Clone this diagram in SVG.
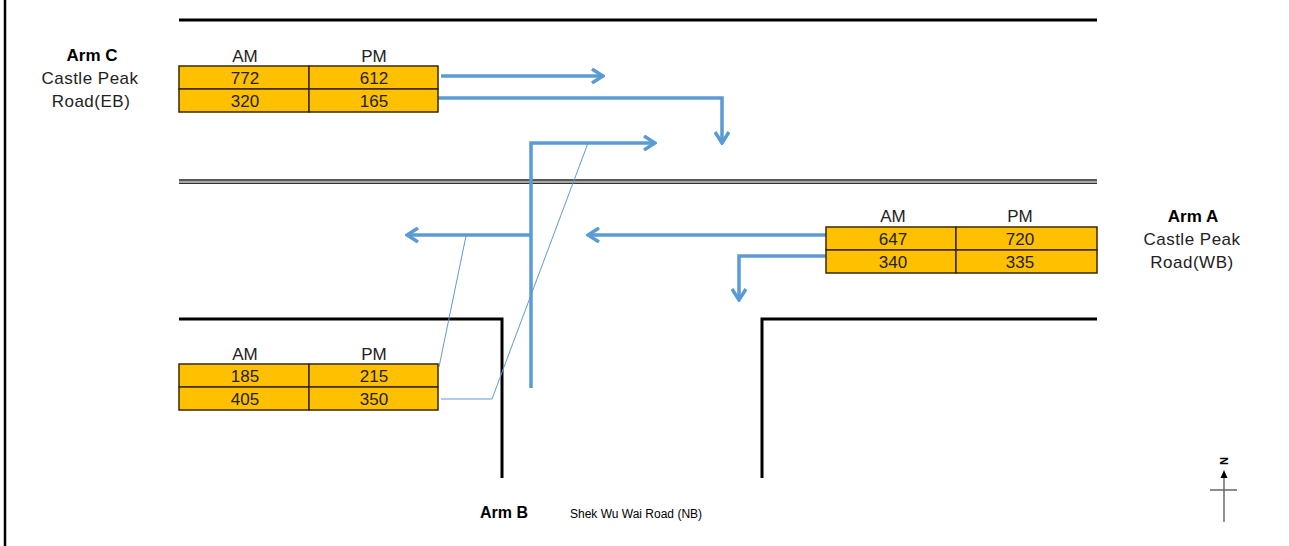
<svg xmlns="http://www.w3.org/2000/svg" width="1289" height="546" viewBox="0 0 1289 546">
<defs>
<style>
.road{stroke:#000;stroke-width:3;fill:none}
.flow{stroke:#5B9BD5;stroke-width:3.5;fill:none}
.thin{stroke:#5B9BD5;stroke-width:1;fill:none}
.cell{fill:#FFC000;stroke:#3a2a00;stroke-width:1.5}
.t{font-family:"Liberation Sans",Arial,sans-serif;font-size:17px;fill:#222;text-anchor:middle}
.lab{font-family:"Liberation Sans",Arial,sans-serif;font-size:17px;fill:#222;text-anchor:middle;letter-spacing:0.5px}
.b{font-weight:bold;fill:#000;letter-spacing:0}
</style>
<marker id="ah" viewBox="0 0 16 16" refX="14" refY="8" markerWidth="16" markerHeight="16" markerUnits="userSpaceOnUse" orient="auto">
<path d="M3,1 L14,8 L3,15" fill="none" stroke="#5B9BD5" stroke-width="3.5"/>
</marker>
</defs>
<rect width="1289" height="546" fill="#fff"/>
<line x1="5" y1="0" x2="5" y2="546" stroke="#000" stroke-width="2.5"/>
<g id="roads">
<line class="road" x1="179" y1="20" x2="1097" y2="20"/>
<line x1="179" y1="180" x2="1097" y2="180" stroke="#222" stroke-width="1.5"/>
<line x1="179" y1="182" x2="1097" y2="182" stroke="#888" stroke-width="1.5"/>
<line x1="179" y1="183.5" x2="1097" y2="183.5" stroke="#333" stroke-width="1"/>
<polyline class="road" points="179,319 502,319 502,478"/>
<polyline class="road" points="762,478 762,319 1097,319"/>
</g>
<g id="connectors">
<line class="flow" x1="441" y1="76" x2="603" y2="76" marker-end="url(#ah)"/>
<polyline class="flow" points="438,98 722,98 722,143" marker-end="url(#ah)"/>
<polyline class="flow" points="531,388 531,143 655,143" marker-end="url(#ah)"/>
<line class="flow" x1="531" y1="235" x2="407" y2="235" marker-end="url(#ah)"/>
<line class="flow" x1="826" y1="235" x2="588" y2="235" marker-end="url(#ah)"/>
<polyline class="flow" points="826,256 739,256 739,300" marker-end="url(#ah)"/>
<line class="thin" x1="439" y1="367" x2="466" y2="236"/>
<polyline class="thin" points="441,399 492,399 588,143"/>
</g>
<g id="armC">
<text class="lab b" x="92" y="61">Arm C</text>
<text class="lab" x="90" y="84">Castle Peak</text>
<text class="lab" x="91" y="107">Road(EB)</text>
<text class="t" x="245" y="62">AM</text>
<text class="t" x="374" y="62">PM</text>
<rect class="cell" x="179" y="66" width="130" height="23"/>
<rect class="cell" x="309" y="66" width="129" height="23"/>
<rect class="cell" x="179" y="89" width="130" height="23"/>
<rect class="cell" x="309" y="89" width="129" height="23"/>
<text class="t" x="245" y="84">772</text>
<text class="t" x="374" y="84">612</text>
<text class="t" x="245" y="107">320</text>
<text class="t" x="374" y="107">165</text>
</g>
<g id="armA">
<text class="lab b" x="1193" y="222">Arm A</text>
<text class="lab" x="1192" y="245">Castle Peak</text>
<text class="lab" x="1192" y="268">Road(WB)</text>
<text class="t" x="893" y="222">AM</text>
<text class="t" x="1020" y="222">PM</text>
<rect class="cell" x="826" y="227" width="130" height="23"/>
<rect class="cell" x="956" y="227" width="141" height="23"/>
<rect class="cell" x="826" y="250" width="130" height="23"/>
<rect class="cell" x="956" y="250" width="141" height="23"/>
<text class="t" x="893" y="245">647</text>
<text class="t" x="1020" y="245">720</text>
<text class="t" x="893" y="268">340</text>
<text class="t" x="1020" y="268">335</text>
</g>
<g id="armB">
<text class="t" x="245" y="360">AM</text>
<text class="t" x="374" y="360">PM</text>
<rect class="cell" x="179" y="364" width="130" height="23"/>
<rect class="cell" x="309" y="364" width="129" height="23"/>
<rect class="cell" x="179" y="387" width="130" height="23"/>
<rect class="cell" x="309" y="387" width="129" height="23"/>
<text class="t" x="245" y="382">185</text>
<text class="t" x="374" y="382">215</text>
<text class="t" x="245" y="405">405</text>
<text class="t" x="374" y="405">350</text>
<text class="lab b" x="504" y="518" style="font-size:16px">Arm B</text>
<text x="570" y="518" style="font-family:'Liberation Sans',Arial,sans-serif;font-size:12px;fill:#000">Shek Wu Wai Road (NB)</text>
</g>
<g id="north">
<line x1="1224" y1="522" x2="1224" y2="477" stroke="#444" stroke-width="1.2"/>
<polygon points="1220.5,478 1224,470 1227.5,478" fill="#000"/>
<line x1="1210" y1="490" x2="1237" y2="490" stroke="#666" stroke-width="1.5"/>
<text x="1224" y="461" transform="rotate(90 1224 461)" style="font-family:'Liberation Sans',Arial,sans-serif;font-size:11px;font-weight:bold;fill:#000" text-anchor="middle" dominant-baseline="central">N</text>
</g>
</svg>
